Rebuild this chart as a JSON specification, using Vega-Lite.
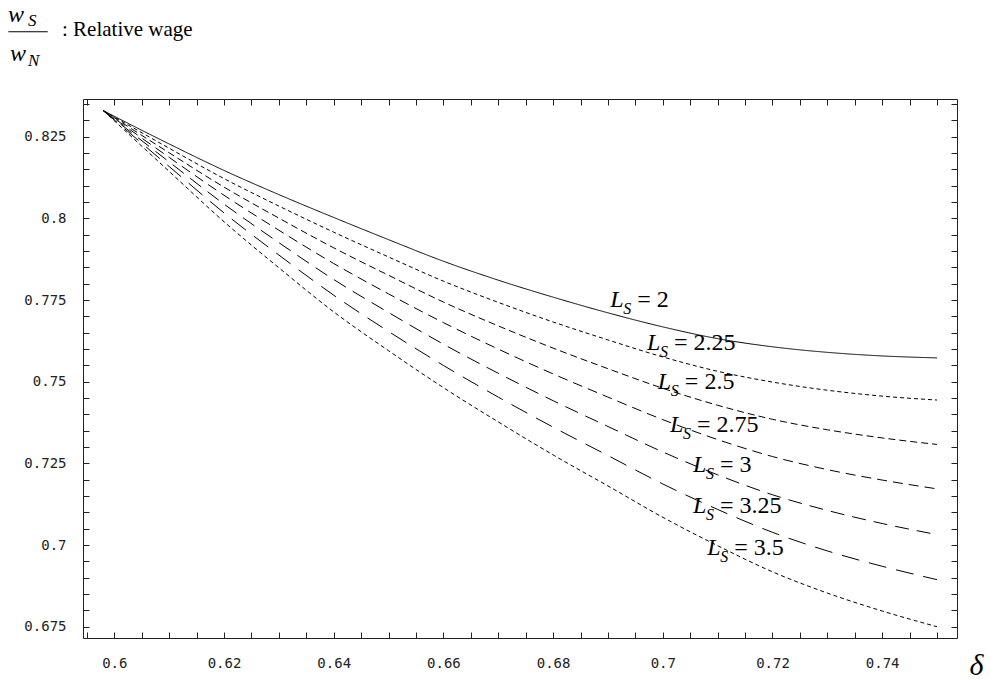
{
  "$schema": "https://vega.github.io/schema/vega-lite/v6.json",
  "width": 874,
  "height": 539,
  "autosize": {"type": "none"},
  "padding": {"left": 83, "top": 99, "right": 34, "bottom": 50},
  "background": "white",
  "config": {"view": {"stroke": null}, "axis": {"grid": false}},
  "datasets": {
    "curves": [
      {"L":"2","d":0.598,"w":0.833},{"L":"2","d":0.61,"w":0.8228},{"L":"2","d":0.62,"w":0.8147},{"L":"2","d":0.63,"w":0.8073},{"L":"2","d":0.64,"w":0.8003},{"L":"2","d":0.65,"w":0.7935},{"L":"2","d":0.66,"w":0.7869},{"L":"2","d":0.67,"w":0.7811},{"L":"2","d":0.68,"w":0.7759},{"L":"2","d":0.69,"w":0.7711},{"L":"2","d":0.7,"w":0.7668},{"L":"2","d":0.71,"w":0.7632},{"L":"2","d":0.72,"w":0.7607},{"L":"2","d":0.73,"w":0.759},{"L":"2","d":0.74,"w":0.7579},{"L":"2","d":0.75,"w":0.7573},
      {"L":"2.25","d":0.598,"w":0.833},{"L":"2.25","d":0.61,"w":0.8215},{"L":"2.25","d":0.62,"w":0.8122},{"L":"2.25","d":0.63,"w":0.8038},{"L":"2.25","d":0.64,"w":0.7958},{"L":"2.25","d":0.65,"w":0.7882},{"L":"2.25","d":0.66,"w":0.7808},{"L":"2.25","d":0.67,"w":0.7743},{"L":"2.25","d":0.68,"w":0.7683},{"L":"2.25","d":0.69,"w":0.7628},{"L":"2.25","d":0.7,"w":0.7576},{"L":"2.25","d":0.71,"w":0.7532},{"L":"2.25","d":0.72,"w":0.7499},{"L":"2.25","d":0.73,"w":0.7474},{"L":"2.25","d":0.74,"w":0.7456},{"L":"2.25","d":0.75,"w":0.7444},
      {"L":"2.5","d":0.598,"w":0.833},{"L":"2.5","d":0.61,"w":0.8201},{"L":"2.5","d":0.62,"w":0.8096},{"L":"2.5","d":0.63,"w":0.8001},{"L":"2.5","d":0.64,"w":0.791},{"L":"2.5","d":0.65,"w":0.7826},{"L":"2.5","d":0.66,"w":0.7744},{"L":"2.5","d":0.67,"w":0.7671},{"L":"2.5","d":0.68,"w":0.7603},{"L":"2.5","d":0.69,"w":0.754},{"L":"2.5","d":0.7,"w":0.748},{"L":"2.5","d":0.71,"w":0.7428},{"L":"2.5","d":0.72,"w":0.7385},{"L":"2.5","d":0.73,"w":0.7353},{"L":"2.5","d":0.74,"w":0.7328},{"L":"2.5","d":0.75,"w":0.7308},
      {"L":"2.75","d":0.598,"w":0.833},{"L":"2.75","d":0.61,"w":0.8187},{"L":"2.75","d":0.62,"w":0.8071},{"L":"2.75","d":0.63,"w":0.7964},{"L":"2.75","d":0.64,"w":0.7862},{"L":"2.75","d":0.65,"w":0.7769},{"L":"2.75","d":0.66,"w":0.7681},{"L":"2.75","d":0.67,"w":0.76},{"L":"2.75","d":0.68,"w":0.7524},{"L":"2.75","d":0.69,"w":0.7453},{"L":"2.75","d":0.7,"w":0.7384},{"L":"2.75","d":0.71,"w":0.7323},{"L":"2.75","d":0.72,"w":0.7271},{"L":"2.75","d":0.73,"w":0.7231},{"L":"2.75","d":0.74,"w":0.7199},{"L":"2.75","d":0.75,"w":0.7172},
      {"L":"3","d":0.598,"w":0.833},{"L":"3","d":0.61,"w":0.8173},{"L":"3","d":0.62,"w":0.8044},{"L":"3","d":0.63,"w":0.7926},{"L":"3","d":0.64,"w":0.7813},{"L":"3","d":0.65,"w":0.7712},{"L":"3","d":0.66,"w":0.7615},{"L":"3","d":0.67,"w":0.7526},{"L":"3","d":0.68,"w":0.7442},{"L":"3","d":0.69,"w":0.7363},{"L":"3","d":0.7,"w":0.7285},{"L":"3","d":0.71,"w":0.7215},{"L":"3","d":0.72,"w":0.7154},{"L":"3","d":0.73,"w":0.7106},{"L":"3","d":0.74,"w":0.7066},{"L":"3","d":0.75,"w":0.7032},
      {"L":"3.25","d":0.598,"w":0.833},{"L":"3.25","d":0.61,"w":0.8159},{"L":"3.25","d":0.62,"w":0.8017},{"L":"3.25","d":0.63,"w":0.7888},{"L":"3.25","d":0.64,"w":0.7765},{"L":"3.25","d":0.65,"w":0.7654},{"L":"3.25","d":0.66,"w":0.755},{"L":"3.25","d":0.67,"w":0.7453},{"L":"3.25","d":0.68,"w":0.7361},{"L":"3.25","d":0.69,"w":0.7274},{"L":"3.25","d":0.7,"w":0.7187},{"L":"3.25","d":0.71,"w":0.7109},{"L":"3.25","d":0.72,"w":0.7039},{"L":"3.25","d":0.73,"w":0.6982},{"L":"3.25","d":0.74,"w":0.6935},{"L":"3.25","d":0.75,"w":0.6894},
      {"L":"3.5","d":0.598,"w":0.833},{"L":"3.5","d":0.61,"w":0.8144},{"L":"3.5","d":0.62,"w":0.799},{"L":"3.5","d":0.63,"w":0.7849},{"L":"3.5","d":0.64,"w":0.7714},{"L":"3.5","d":0.65,"w":0.7595},{"L":"3.5","d":0.66,"w":0.7482},{"L":"3.5","d":0.67,"w":0.7377},{"L":"3.5","d":0.68,"w":0.7276},{"L":"3.5","d":0.69,"w":0.7181},{"L":"3.5","d":0.7,"w":0.7085},{"L":"3.5","d":0.71,"w":0.6998},{"L":"3.5","d":0.72,"w":0.6918},{"L":"3.5","d":0.73,"w":0.6853},{"L":"3.5","d":0.74,"w":0.6798},{"L":"3.5","d":0.75,"w":0.675}
    ],
    "labels": [
      {"lx":0.6904,"ly":0.7728,"rest":"= 2"},
      {"lx":0.6971,"ly":0.7598,"rest":"= 2.25"},
      {"lx":0.6991,"ly":0.7478,"rest":"= 2.5"},
      {"lx":0.7013,"ly":0.7347,"rest":"= 2.75"},
      {"lx":0.7055,"ly":0.7224,"rest":"= 3"},
      {"lx":0.7055,"ly":0.7098,"rest":"= 3.25"},
      {"lx":0.7081,"ly":0.697,"rest":"= 3.5"}
    ],
    "hdrW": [{"x":0.58062,"y":0.86017,"t":"w"},{"x":0.58098,"y":0.84806,"t":"w"}],
    "hdrSub": [{"x":0.58427,"y":0.85878,"t":"S"},{"x":0.58427,"y":0.84662,"t":"N"}],
    "hdrBar": [{"x":0.58068,"x2":0.58786,"y":0.85716}],
    "hdrText": [{"x":0.59046,"y":0.85582,"t":": Relative wage"}]
  },
  "layer": [
    {
      "data": {"name": "curves"},
      "mark": {"type": "line", "color": "#000", "strokeWidth": 1, "interpolate": "monotone"},
      "encoding": {
        "x": {"field": "d", "type": "quantitative",
          "scale": {"domain": [0.59429, 0.75364], "nice": false, "zero": false},
          "axis": {"orient": "bottom", "grid": false,
            "values": [0.595,0.6,0.605,0.61,0.615,0.62,0.625,0.63,0.635,0.64,0.645,0.65,0.655,0.66,0.665,0.67,0.675,0.68,0.685,0.69,0.695,0.7,0.705,0.71,0.715,0.72,0.725,0.73,0.735,0.74,0.745,0.75],
            "tickSize": -6, "tickColor": "#222", "tickWidth": 1, "domainColor": "#222", "domainWidth": 1,
            "labelExpr": "abs(datum.value/0.02 - round(datum.value/0.02)) < 0.01 ? '' + round(datum.value*1000)/1000 : ''",
            "labelFont": "DejaVu Sans Mono", "labelFontSize": 14, "labelColor": "#222", "labelPadding": 24,
            "labelOverlap": false, "labelFlush": false,
            "title": "δ", "titleX": 886, "titleY": 36, "titleAlign": "left", "titleBaseline": "alphabetic", "titleAngle": 0,
            "titleFont": "Liberation Serif", "titleFontStyle": "italic", "titleFontWeight": "normal", "titleFontSize": 30, "titleColor": "#000",
            "encoding": {"ticks": {"update": {"y2": {"signal": "abs(datum.value/0.02 - round(datum.value/0.02)) < 0.01 ? -6 : -3"}}}}
          }
        },
        "y": {"field": "w", "type": "quantitative",
          "scale": {"domain": [0.67154, 0.83657], "nice": false, "zero": false},
          "axis": {"orient": "left", "grid": false,
            "values": [0.675,0.68,0.685,0.69,0.695,0.7,0.705,0.71,0.715,0.72,0.725,0.73,0.735,0.74,0.745,0.75,0.755,0.76,0.765,0.77,0.775,0.78,0.785,0.79,0.795,0.8,0.805,0.81,0.815,0.82,0.825,0.83,0.835],
            "tickSize": -6, "tickColor": "#222", "tickWidth": 1, "domainColor": "#222", "domainWidth": 1,
            "labelExpr": "abs(datum.value/0.025 - round(datum.value/0.025)) < 0.01 ? '' + round(datum.value*1000)/1000 : ''",
            "labelFont": "DejaVu Sans Mono", "labelFontSize": 14, "labelColor": "#222", "labelPadding": 23,
            "labelOverlap": false, "labelFlush": false, "title": null,
            "encoding": {"ticks": {"update": {"x2": {"signal": "abs(datum.value/0.025 - round(datum.value/0.025)) < 0.01 ? 6 : 3"}}}}
          }
        },
        "strokeDash": {"field": "L", "type": "nominal",
          "scale": {"domain": ["2","2.25","2.5","2.75","3","3.25","3.5"],
                    "range": [[1,0],[4,3],[7,4],[10,6],[14,8],[18,10],[4,3]]},
          "legend": null}
      }
    },
    {
      "data": {"name": "labels"},
      "mark": {"type": "text", "text": "L", "font": "Liberation Serif", "fontStyle": "italic", "fontSize": 24, "align": "left", "baseline": "alphabetic", "color": "#000"},
      "encoding": {
        "x": {"field": "lx", "type": "quantitative",
          "scale": {"domain": [0.59429, 0.75364], "nice": false, "zero": false},
          "axis": {"orient": "top", "grid": false, "labels": false, "title": null,
            "values": [0.595,0.6,0.605,0.61,0.615,0.62,0.625,0.63,0.635,0.64,0.645,0.65,0.655,0.66,0.665,0.67,0.675,0.68,0.685,0.69,0.695,0.7,0.705,0.71,0.715,0.72,0.725,0.73,0.735,0.74,0.745,0.75],
            "tickSize": -6, "tickColor": "#222", "tickWidth": 1, "domainColor": "#222", "domainWidth": 1,
            "encoding": {"ticks": {"update": {"y2": {"signal": "abs(datum.value/0.02 - round(datum.value/0.02)) < 0.01 ? 6 : 3"}}}}
          }
        },
        "y": {"field": "ly", "type": "quantitative",
          "scale": {"domain": [0.67154, 0.83657], "nice": false, "zero": false},
          "axis": {"orient": "right", "grid": false, "labels": false, "title": null,
            "values": [0.675,0.68,0.685,0.69,0.695,0.7,0.705,0.71,0.715,0.72,0.725,0.73,0.735,0.74,0.745,0.75,0.755,0.76,0.765,0.77,0.775,0.78,0.785,0.79,0.795,0.8,0.805,0.81,0.815,0.82,0.825,0.83,0.835],
            "tickSize": -6, "tickColor": "#222", "tickWidth": 1, "domainColor": "#222", "domainWidth": 1,
            "encoding": {"ticks": {"update": {"x2": {"signal": "abs(datum.value/0.025 - round(datum.value/0.025)) < 0.01 ? -6 : -3"}}}}
          }
        }
      }
    },
    {
      "data": {"name": "labels"},
      "mark": {"type": "text", "text": "S", "font": "Liberation Serif", "fontStyle": "italic", "fontSize": 16, "align": "left", "baseline": "alphabetic", "dx": 13, "dy": 7, "color": "#000"},
      "encoding": {
        "x": {"field": "lx", "type": "quantitative", "scale": {"domain": [0.59429, 0.75364], "nice": false, "zero": false}, "axis": null},
        "y": {"field": "ly", "type": "quantitative", "scale": {"domain": [0.67154, 0.83657], "nice": false, "zero": false}, "axis": null}
      }
    },
    {
      "data": {"name": "labels"},
      "mark": {"type": "text", "font": "Liberation Serif", "fontSize": 24, "align": "left", "baseline": "alphabetic", "dx": 27, "color": "#000"},
      "encoding": {
        "x": {"field": "lx", "type": "quantitative", "scale": {"domain": [0.59429, 0.75364], "nice": false, "zero": false}, "axis": null},
        "y": {"field": "ly", "type": "quantitative", "scale": {"domain": [0.67154, 0.83657], "nice": false, "zero": false}, "axis": null},
        "text": {"field": "rest"}
      }
    },
    {
      "data": {"name": "hdrW"},
      "mark": {"type": "text", "font": "Liberation Serif", "fontStyle": "italic", "fontSize": 24, "align": "left", "baseline": "alphabetic", "color": "#000"},
      "encoding": {
        "x": {"field": "x", "type": "quantitative", "scale": {"domain": [0.59429, 0.75364], "nice": false, "zero": false}, "axis": null},
        "y": {"field": "y", "type": "quantitative", "scale": {"domain": [0.67154, 0.83657], "nice": false, "zero": false}, "axis": null},
        "text": {"field": "t"}
      }
    },
    {
      "data": {"name": "hdrSub"},
      "mark": {"type": "text", "font": "Liberation Serif", "fontStyle": "italic", "fontSize": 17, "align": "left", "baseline": "alphabetic", "color": "#000"},
      "encoding": {
        "x": {"field": "x", "type": "quantitative", "scale": {"domain": [0.59429, 0.75364], "nice": false, "zero": false}, "axis": null},
        "y": {"field": "y", "type": "quantitative", "scale": {"domain": [0.67154, 0.83657], "nice": false, "zero": false}, "axis": null},
        "text": {"field": "t"}
      }
    },
    {
      "data": {"name": "hdrBar"},
      "mark": {"type": "rule", "color": "#000", "strokeWidth": 1},
      "encoding": {
        "x": {"field": "x", "type": "quantitative", "scale": {"domain": [0.59429, 0.75364], "nice": false, "zero": false}, "axis": null},
        "x2": {"field": "x2"},
        "y": {"field": "y", "type": "quantitative", "scale": {"domain": [0.67154, 0.83657], "nice": false, "zero": false}, "axis": null}
      }
    },
    {
      "data": {"name": "hdrText"},
      "mark": {"type": "text", "font": "Liberation Serif", "fontSize": 21, "align": "left", "baseline": "alphabetic", "color": "#000"},
      "encoding": {
        "x": {"field": "x", "type": "quantitative", "scale": {"domain": [0.59429, 0.75364], "nice": false, "zero": false}, "axis": null},
        "y": {"field": "y", "type": "quantitative", "scale": {"domain": [0.67154, 0.83657], "nice": false, "zero": false}, "axis": null},
        "text": {"field": "t"}
      }
    }
  ]
}
